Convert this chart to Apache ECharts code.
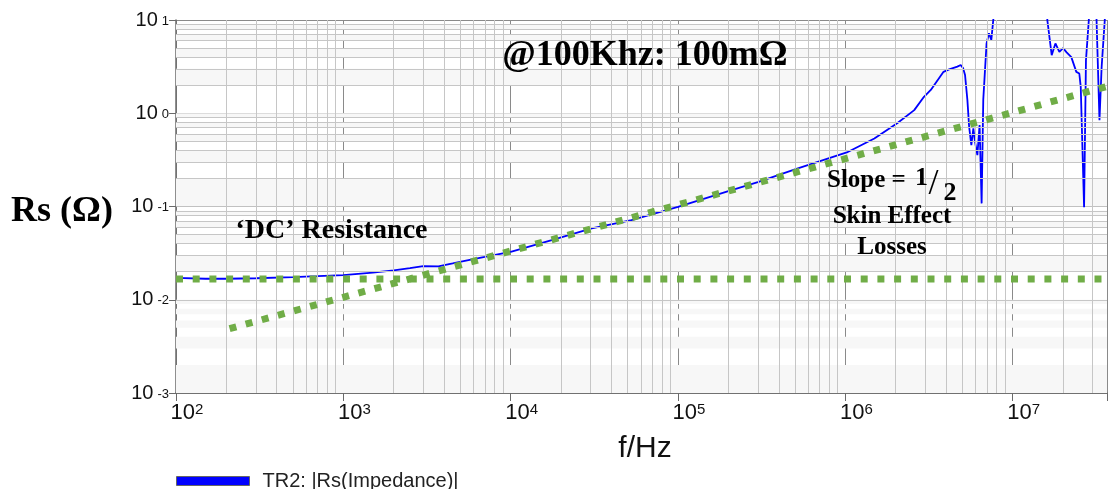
<!DOCTYPE html>
<html>
<head>
<meta charset="utf-8">
<script src="https://cdn.jsdelivr.net/npm/echarts@6/dist/echarts.min.js"></script>
<style>
html,body{margin:0;padding:0;background:#fff;}
#chart{width:1110px;height:489px;}
</style>
</head>
<body>
<div id="chart"></div>
<script>
// ---- data ----
var seriesName = 'TR2: |Rs(Impedance)|';
var freqHz = [100,150,200,300,500,700,1000,1500,2000,2500,3000,3700,4500,5500,7000,10000,17600,30500,52700,100000,
  200000,300000,520000,1020000,1490000,2040000,2580000,2950000,3240000,3860000,4170000,4670000,4890000,5050000,5190000,
  5360000,5490000,5660000,5820000,5950000,6150000,6340000,6520000,6670000,6980000,7210000,7450000,7730000,8000000,
  16000000,16100000,17100000,18000000,18500000,19000000,20000000,21000000,22400000,24000000,25000000,25500000,26700000,
  27400000,28500000,29500000,31000000,31700000,33000000,34000000,35500000,36600000];
var rsOhm = [0.0172,0.0168,0.0168,0.0170,0.0175,0.0179,0.0184,0.0195,0.0207,0.0218,0.0229,0.0228,0.0245,0.0265,0.0288,0.0327,0.0436,0.0582,0.0714,0.0993,
  0.146,0.183,0.256,0.38,0.537,0.78,1.08,1.5,1.78,2.78,2.95,3.16,3.29,3.05,2.57,
  1.39,0.717,0.456,0.69,0.5,0.356,0.746,0.108,1.4,5.62,7.2,6.1,12,40,
  40,10,4.2,5.6,5.5,4.55,5.0,4.5,4.0,2.78,2.67,1.92,0.098,
  3.7,10,40,40,10,0.84,3.15,10,40];
var dcLine = [[100,0.0167],[36600000,0.0167]];
var skinLine = [[209,0.0049],[36600000,1.94]];
var xMin = 100, xMax = 36600000, yMin = 0.001, yMax = 10;
var xDecades = [2,3,4,5,6,7];
var yDecades = [-3,-2,-1,0];
var minorSteps = [2,3,4,5,6,7,8,9];

// ---- derived (grid decorations from axis values) ----
var blue = freqHz.map(function(f,i){return [f, rsOhm[i]];});
var minorX = [], minorY = [], bands = [];
xDecades.forEach(function(d){ minorSteps.forEach(function(k){ var v=k*Math.pow(10,d); if(v<xMax) minorX.push({xAxis:v}); }); });
yDecades.forEach(function(d){ minorSteps.forEach(function(k){ minorY.push({yAxis:k*Math.pow(10,d)}); }); });
yDecades.forEach(function(d,di){
  for (var k=1;k<=9;k++){
    var i = di*9 + (k-1);
    if (i%2===0) bands.push([{yAxis:k*Math.pow(10,d)},{yAxis:(k+1)*Math.pow(10,d)}]);
  }
});

function powLabel(v){
  var e = Math.log10(v), r = Math.round(e);
  if (Math.abs(e-r) > 1e-6) return '';
  return '{b|10}{s|' + (r<0?'-':'') + Math.abs(r) + '}';
}

var chart = echarts.init(document.getElementById('chart'), null, {renderer:'canvas'});
var serif = 'Liberation Serif, Times New Roman, serif';
var sans = 'Liberation Sans, Arial, sans-serif';
chart.setOption({
  animation:false,
  backgroundColor:'#ffffff',
  grid:{left:176, right:0, top:20, bottom:96, containLabel:false},
  legend:{
    left:176, top:471, padding:0, itemWidth:73, itemHeight:9,
    data:[{name:seriesName, icon:'rect'}],
    itemStyle:{color:'#0000ff', borderColor:'#666', borderWidth:1},
    textStyle:{fontFamily:sans, fontSize:20, color:'#222', padding:[0,0,0,8]}
  },
  xAxis:{
    type:'log', logBase:10, min:xMin, max:xMax,
    axisLine:{show:true, onZero:false, lineStyle:{color:'#6a6a6a', width:1.5}},
    axisTick:{show:true, length:8, lineStyle:{color:'#6a6a6a'}},
    splitLine:{show:true, lineStyle:{color:'#8a8a8a', width:1}},
    axisLabel:{
      formatter:powLabel, margin:9, align:'center', padding:[0,0,0,22], color:'#111',
      rich:{ b:{fontFamily:sans, fontSize:22, color:'#111'},
             s:{fontFamily:sans, fontSize:15, color:'#111', verticalAlign:'top'} }
    }
  },
  yAxis:{
    type:'log', logBase:10, min:yMin, max:yMax,
    axisLine:{show:true, onZero:false, lineStyle:{color:'#6a6a6a', width:1.5}},
    axisTick:{show:true, length:7, lineStyle:{color:'#6a6a6a'}},
    splitLine:{show:true, lineStyle:{color:'#8a8a8a', width:1}},
    axisLabel:{
      formatter:powLabel, margin:7, color:'#111',
      rich:{ b:{fontFamily:sans, fontSize:20, lineHeight:24, color:'#111'},
             s:{fontFamily:sans, fontSize:13, lineHeight:24, color:'#111', verticalAlign:'middle', padding:[2,0,0,4]} }
    }
  },
  series:[
    { name:'bands', type:'line', z:-1, data:[[xMin,0.0167]], symbol:'none', silent:true,
      lineStyle:{width:0, opacity:0},
      markArea:{silent:true, itemStyle:{color:'#f7f7f7'}, data:bands} },
    { name:'minor', type:'line', z:1, data:[[xMin,0.0167]], symbol:'none', silent:true,
      lineStyle:{width:0, opacity:0},
      markLine:{silent:true, symbol:['none','none'], label:{show:false},
        lineStyle:{color:'#c6c6c6', width:1, type:'solid'}, emphasis:{disabled:true},
        data:minorX.concat(minorY)} },
    { name:seriesName, type:'line', z:4, data:blue, symbol:'none', clip:true,
      color:'#0000ff', lineStyle:{color:'#0000ff', width:1.8} },
    { name:'dc', type:'line', z:5, data:dcLine, symbol:'none', clip:true,
      lineStyle:{color:'#70ad47', width:7, type:[7,9.7], cap:'butt'} },
    { name:'skin', type:'line', z:5, data:skinLine, symbol:'none', clip:true,
      lineStyle:{color:'#70ad47', width:7, type:[7,9.7], cap:'butt'} }
  ],
  graphic:[
    {type:'text', x:645, y:55.5, z:10, style:{text:'@100Khz: 100mΩ', font:'bold 36px '+serif, fill:'#000', align:'center', verticalAlign:'middle'}},
    {type:'text', x:331.5, y:230.6, z:10, style:{text:'‘DC’ Resistance', font:'bold 28px '+serif, fill:'#000', align:'center', verticalAlign:'middle'}},
    {type:'text', x:62, y:211.5, z:10, style:{text:'Rs (Ω)', font:'bold 36px '+serif, fill:'#000', align:'center', verticalAlign:'middle'}},
    {type:'text', x:827, y:180.5, z:10, style:{text:'Slope =', font:'bold 25px '+serif, fill:'#000', align:'left', verticalAlign:'middle'}},
    {type:'text', x:921.5, y:178, z:10, style:{text:'1', font:'bold 26px '+serif, fill:'#000', align:'center', verticalAlign:'middle'}},
    {type:'text', x:933.5, y:185, z:10, style:{text:'/', font:'36px '+serif, fill:'#000', align:'center', verticalAlign:'middle'}},
    {type:'text', x:950, y:193, z:10, style:{text:'2', font:'bold 26px '+serif, fill:'#000', align:'center', verticalAlign:'middle'}},
    {type:'text', x:892, y:216.2, z:10, style:{text:'Skin Effect', font:'bold 25px '+serif, fill:'#000', align:'center', verticalAlign:'middle'}},
    {type:'text', x:892, y:247.2, z:10, style:{text:'Losses', font:'bold 25px '+serif, fill:'#000', align:'center', verticalAlign:'middle'}},
    {type:'text', x:645, y:449, z:10, style:{text:'f/Hz', font:'30px '+sans, fill:'#111', align:'center', verticalAlign:'middle'}}
  ]
});
</script>
</body>
</html>
